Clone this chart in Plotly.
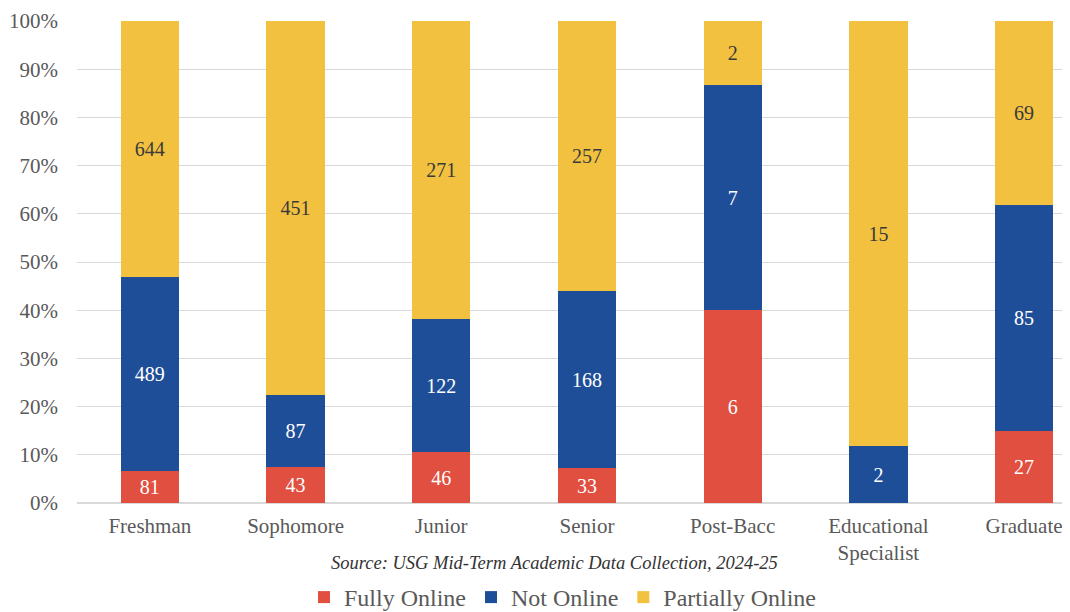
import plotly.graph_objects as go

# Student counts by class level and online status
categories = ['Freshman', 'Sophomore', 'Junior', 'Senior', 'Post-Bacc',
              'Educational<br>Specialist', 'Graduate']
fully_online = [81, 43, 46, 33, 6, 0, 27]
not_online = [489, 87, 122, 168, 7, 2, 85]
partially_online = [644, 451, 271, 257, 2, 15, 69]

y_ticks = [0, 10, 20, 30, 40, 50, 60, 70, 80, 90, 100]
y_ticklabels = [f'{v}%' for v in y_ticks]

series = [
    ('Fully Online', fully_online, '#E04F3F', 'white'),
    ('Not Online', not_online, '#1F4E99', 'white'),
    ('Partially Online', partially_online, '#F2C140', '#3a3a3a'),
]

FONT = 'Liberation Serif'

fig = go.Figure()
for name, vals, color, txtcolor in series:
    fig.add_trace(go.Bar(
        x=categories,
        y=vals,
        name=name,
        marker=dict(color=color, line=dict(width=0)),
        text=[str(v) if v else '' for v in vals],
        textposition='inside',
        insidetextanchor='middle',
        textangle=0,
        constraintext='none',
        textfont=dict(family=FONT, size=20, color=txtcolor),
    ))

# page body adds an 8px offset, so margins are trimmed to compensate
fig.update_layout(
    barmode='stack',
    barnorm='percent',
    bargap=0.6,
    width=1070,
    height=612,
    margin=dict(l=69, r=0, t=13, b=117),
    plot_bgcolor='white',
    paper_bgcolor='white',
    font=dict(family=FONT, color='#595959'),
    xaxis=dict(
        range=[-0.5, 6.37],
        automargin=False,
        showgrid=False,
        showline=False,
        ticks='',
        ticklabelstandoff=8,
        tickfont=dict(family=FONT, size=21, color='#595959'),
    ),
    yaxis=dict(
        range=[0, 100],
        automargin=False,
        tickvals=y_ticks,
        ticktext=y_ticklabels,
        showgrid=True,
        gridcolor='#d9d9d9',
        gridwidth=1,
        zeroline=True,
        zerolinecolor='#d9d9d9',
        ticks='',
        ticklabelstandoff=18,
        tickfont=dict(family=FONT, size=21, color='#595959'),
    ),
    legend=dict(
        orientation='h',
        x=0.485,
        xanchor='center',
        y=-0.197,
        yanchor='middle',
        font=dict(family=FONT, size=24, color='#595959'),
        traceorder='normal',
        itemwidth=30,
        tracegroupgap=0,
    ),
    annotations=[dict(
        text='<i>Source: USG Mid-Term Academic Data Collection, 2024-25</i>',
        xref='paper', yref='paper',
        x=0.477, y=-0.124,
        xanchor='center', yanchor='middle',
        showarrow=False,
        font=dict(family=FONT, size=18.5, color='#333333'),
    )],
)

fig.write_html("out.html")
